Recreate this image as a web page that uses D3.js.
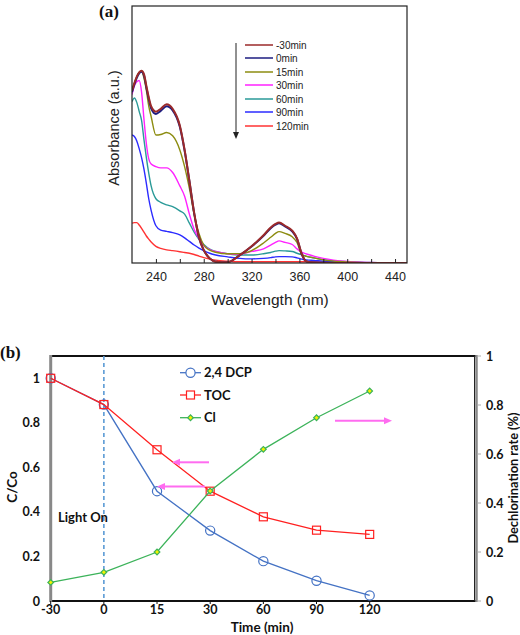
<!DOCTYPE html>
<html>
<head>
<meta charset="utf-8">
<script src="https://cdn.jsdelivr.net/npm/d3@7"></script>
<style>
  body { margin: 0; background: #fff; }
  svg { display: block; }
</style>
</head>
<body>
<svg id="chart" width="520" height="635"></svg>
<script>
// ---------- Panel (a) data ----------
const wavelengths = [220,222,224,226,228,230,232,234,236,240,244,249,254,260,264,268,272,276,280,285,290,300,310,320,330,336,340,343,348,354,358,362,366,372,380,400,420,450];
const specNames = ["-30min","0min","15min","30min","60min","90min","120min"];
const specColors = ["#9b2a2a","#1c1c80","#8c8c10","#ff22ff","#2a9a98","#2b2bff","#ff3333"];
const absM30 = [.67,.70,.725,.742,.748,.735,.69,.645,.61,.589,.60,.618,.60,.535,.44,.32,.195,.10,.05,.018,.005,.003,.03,.065,.108,.138,.152,.158,.145,.126,.096,.035,.006,.002,.001,0,0,0];
const abs0 = [.665,.695,.72,.738,.744,.73,.683,.638,.602,.58,.592,.61,.594,.53,.437,.318,.193,.099,.05,.018,.005,.003,.03,.064,.106,.135,.149,.155,.142,.123,.094,.034,.006,.002,.001,0,0,0];
const abs15 = [.67,.70,.725,.742,.745,.72,.673,.61,.57,.498,.50,.508,.495,.44,.375,.29,.19,.115,.07,.05,.042,.036,.036,.048,.078,.10,.115,.122,.115,.102,.08,.033,.026,.02,.012,.004,.001,0];
const abs30 = [.655,.69,.705,.71,.665,.56,.465,.405,.385,.375,.37,.37,.352,.30,.26,.19,.13,.095,.068,.052,.045,.036,.034,.045,.055,.07,.08,.086,.08,.072,.055,.042,.035,.027,.018,.006,.002,0];
const abs60 = [.628,.642,.625,.59,.555,.48,.41,.35,.30,.25,.236,.226,.219,.203,.19,.155,.12,.092,.072,.054,.045,.036,.031,.031,.036,.041,.046,.048,.047,.045,.038,.032,.026,.02,.013,.005,.002,0];
const abs90 = [.498,.492,.475,.445,.41,.365,.31,.25,.205,.145,.128,.123,.118,.109,.098,.084,.07,.058,.048,.038,.031,.024,.018,.016,.018,.021,.024,.025,.025,.024,.02,.015,.012,.01,.007,.003,.001,0];
const abs120 = [.155,.157,.157,.148,.135,.12,.105,.093,.082,.065,.057,.051,.048,.044,.041,.038,.033,.027,.021,.015,.011,.007,.005,.005,.005,.005,.005,.005,.005,.005,.005,.005,.005,.004,.003,.001,0,0];
const specValues = [absM30, abs0, abs15, abs30, abs60, abs90, abs120];
const wlTicks = [240,280,320,360,400,440];

// ---------- Panel (b) data ----------
const timeLabels = ["-30","0","15","30","60","90","120"];
const dcp = [1.0,0.882,0.493,0.316,0.179,0.091,0.025];
const toc = [1.0,0.882,0.679,0.493,0.378,0.318,0.299];
const cl  = [0.076,0.117,0.200,0.449,0.619,0.748,0.857];
const leftTicks = [0,0.2,0.4,0.6,0.8,1];
const rightTicks = [0,0.2,0.4,0.6,0.8,1];

const svg = d3.select("#chart");

// ================= Panel (a) =================
const ax = d3.scaleLinear().domain([220,450]).range([132,407]);
const ay = d3.scaleLinear().domain([0,1]).range([263,6]);
const ga = svg.append("g");
svg.append("defs").append("clipPath").attr("id","clipA")
  .append("rect").attr("x",132).attr("y",6).attr("width",275).attr("height",257);

const line = d3.line().x((d,i)=>ax(wavelengths[i])).y(d=>ay(d)).curve(d3.curveMonotoneX);
const drawOrder = [6,5,4,3,2,1,0];
const curves = ga.append("g").attr("clip-path","url(#clipA)");
drawOrder.forEach(k=>{
  curves.append("path").datum(specValues[k]).attr("d",line)
    .attr("fill","none").attr("stroke",specColors[k])
    .attr("stroke-width",k<2?2:1.4);
});
ga.append("rect").attr("x",132).attr("y",6).attr("width",275).attr("height",257)
  .attr("fill","none").attr("stroke","#222").attr("stroke-width",1.2);
const xAxisA = d3.axisBottom(ax).tickValues(d3.range(240,450,20)).tickSize(-4)
  .tickFormat(d=>wlTicks.includes(d)?d:"");
const gxa = ga.append("g").attr("transform","translate(0,263)").call(xAxisA);
gxa.select(".domain").remove();
gxa.selectAll(".tick line").attr("stroke","#222");
gxa.selectAll(".tick text").attr("font-family","Liberation Sans, Arial, sans-serif")
  .attr("font-size",12.5).attr("fill","#222").attr("dy","0.75em").attr("y",9);
ga.append("text").attr("x",270).attr("y",305).attr("text-anchor","middle")
  .attr("font-family","Liberation Sans, Arial, sans-serif").attr("font-size",15.5).attr("fill","#222")
  .text("Wavelength (nm)");
ga.append("text").attr("transform","translate(119,128) rotate(-90)").attr("text-anchor","middle")
  .attr("font-family","Liberation Sans, Arial, sans-serif").attr("font-size",14.5).attr("fill","#222")
  .text("Absorbance (a.u.)");
ga.append("text").attr("x",99).attr("y",17)
  .attr("font-family","Liberation Serif, Times New Roman, serif").attr("font-weight","bold").attr("font-size",17)
  .attr("fill","#111").text("(a)");
const legA = ga.append("g");
const legY = [45,58,72,85,99,112,126];
specNames.forEach((n,i)=>{
  legA.append("line").attr("x1",245).attr("x2",273).attr("y1",legY[i]).attr("y2",legY[i])
    .attr("stroke",specColors[i]).attr("stroke-width",1.5);
  legA.append("text").attr("x",276).attr("y",legY[i]+3.5)
    .attr("font-family","Liberation Sans Narrow, Arial Narrow, sans-serif").attr("font-size",10)
    .attr("fill","#222").text(n);
});
legA.append("line").attr("x1",236).attr("x2",236).attr("y1",43).attr("y2",133)
  .attr("stroke","#222").attr("stroke-width",1);
legA.append("path").attr("d","M233,132 L239,132 L236,139 Z").attr("fill","#222");

// ================= Panel (b) =================
const bx = d3.scaleLinear().domain([0,8]).range([50.7,476]);
const byL = d3.scaleLinear().domain([0,1.1]).range([601,356]);
const byR = d3.scaleLinear().domain([0,1]).range([601,356]);
const gb = svg.append("g");
const bold = "Lato, 'Open Sans', sans-serif";

gb.append("line").attr("x1",50).attr("x2",476).attr("y1",356).attr("y2",356).attr("stroke","#111").attr("stroke-width",2);
gb.append("line").attr("x1",50).attr("x2",476).attr("y1",601).attr("y2",601).attr("stroke","#111").attr("stroke-width",2);
gb.append("line").attr("x1",474.5).attr("x2",474.5).attr("y1",356).attr("y2",601).attr("stroke","#222").attr("stroke-width",1);
gb.append("line").attr("x1",bx(1)).attr("x2",bx(1)).attr("y1",356).attr("y2",601)
  .attr("stroke","#5b9bd5").attr("stroke-width",1.6).attr("stroke-dasharray","4,3");

gb.append("line").attr("x1",bx(0)).attr("x2",bx(0)).attr("y1",355).attr("y2",602)
  .attr("stroke","#888").attr("stroke-width",3);
leftTicks.forEach(t=>{
  gb.append("text").attr("x",40).attr("y",byL(t)+4.5).attr("text-anchor","end")
    .attr("font-family",bold).attr("font-weight","bold").attr("font-size",12.5).attr("fill","#111")
    .text(t);
});
gb.append("line").attr("x1",476.5).attr("x2",476.5).attr("y1",355).attr("y2",602)
  .attr("stroke","#888").attr("stroke-width",2.5);
rightTicks.forEach(t=>{
  gb.append("line").attr("x1",477).attr("x2",481).attr("y1",byR(t)).attr("y2",byR(t))
    .attr("stroke","#aaa").attr("stroke-width",1);
  gb.append("text").attr("x",486).attr("y",byR(t)+4.5)
    .attr("font-family",bold).attr("font-weight","bold").attr("font-size",12.5).attr("fill","#111")
    .text(t);
});
timeLabels.forEach((t,i)=>{
  gb.append("line").attr("x1",bx(i)).attr("x2",bx(i)).attr("y1",601).attr("y2",604)
    .attr("stroke","#111").attr("stroke-width",1);
  gb.append("text").attr("x",bx(i)).attr("y",614).attr("text-anchor","middle")
    .attr("font-family",bold).attr("font-weight","bold").attr("font-size",12.5).attr("fill","#111")
    .text(t);
});
gb.append("text").attr("x",262).attr("y",632).attr("text-anchor","middle")
  .attr("font-family",bold).attr("font-weight","bold").attr("font-size",13.5).attr("fill","#111")
  .text("Time (min)");
gb.append("text").attr("transform","translate(17,487) rotate(-90)").attr("text-anchor","middle")
  .attr("font-family",bold).attr("font-weight","bold").attr("font-size",13.5).attr("fill","#111")
  .text("C/Co");
gb.append("text").attr("transform","translate(518,478) rotate(-90)").attr("text-anchor","middle")
  .attr("font-family",bold).attr("font-weight","bold").attr("font-size",12.8).attr("fill","#111")
  .text("Dechlorination rate (%)");
gb.append("text").attr("x",0).attr("y",358)
  .attr("font-family","Liberation Serif, Times New Roman, serif").attr("font-weight","bold").attr("font-size",17)
  .attr("fill","#111").text("(b)");
gb.append("text").attr("x",58).attr("y",522)
  .attr("font-family",bold).attr("font-weight","bold").attr("font-size",13).attr("fill","#111")
  .text("Light On");

const lineL = d3.line().x((d,i)=>bx(i)).y(d=>byL(d));
const lineR = d3.line().x((d,i)=>bx(i)).y(d=>byR(d));
const cDCP = "#4472c4", cTOC = "#ff2020", cCL = "#3cb35a";
gb.append("path").datum(dcp).attr("d",lineL).attr("fill","none").attr("stroke",cDCP).attr("stroke-width",1.3);
gb.selectAll(".dcp").data(dcp).join("circle").attr("cx",(d,i)=>bx(i)).attr("cy",d=>byL(d)).attr("r",4.6)
  .attr("fill","none").attr("stroke",cDCP).attr("stroke-width",1.2);
gb.append("path").datum(toc).attr("d",lineL).attr("fill","none").attr("stroke",cTOC).attr("stroke-width",1.3);
gb.selectAll(".toc").data(toc).join("rect").attr("x",(d,i)=>bx(i)-4).attr("y",d=>byL(d)-4)
  .attr("width",8).attr("height",8).attr("fill","none").attr("stroke",cTOC).attr("stroke-width",1.2);
gb.append("path").datum(cl).attr("d",lineR).attr("fill","none").attr("stroke",cCL).attr("stroke-width",1.3);
const diamond = d3.symbol().type(d3.symbolSquare).size(16);
gb.selectAll(".cl").data(cl).join("path").attr("d",diamond)
  .attr("transform",(d,i)=>`translate(${bx(i)},${byR(d)}) rotate(45)`)
  .attr("fill","#f2f200").attr("stroke",cCL).attr("stroke-width",1.2);

const legB = [{n:"2,4 DCP",c:cDCP,m:"c",y:372.7},{n:"TOC",c:cTOC,m:"s",y:395},{n:"Cl",c:cCL,m:"d",y:417.7}];
legB.forEach(l=>{
  gb.append("line").attr("x1",180).attr("x2",201).attr("y1",l.y).attr("y2",l.y).attr("stroke",l.c).attr("stroke-width",1.3);
  if(l.m==="c") gb.append("circle").attr("cx",190.5).attr("cy",l.y).attr("r",4.6).attr("fill","#fff").attr("stroke",l.c).attr("stroke-width",1.2);
  if(l.m==="s") gb.append("rect").attr("x",186.5).attr("y",l.y-4).attr("width",8).attr("height",8).attr("fill","#fff").attr("stroke",l.c).attr("stroke-width",1.2);
  if(l.m==="d") gb.append("path").attr("d",diamond).attr("transform",`translate(190.5,${l.y}) rotate(45)`).attr("fill","#f2f200").attr("stroke",l.c).attr("stroke-width",1.2);
  gb.append("text").attr("x",204).attr("y",l.y+4.5)
    .attr("font-family",bold).attr("font-weight","bold").attr("font-size",13).attr("fill","#111").text(l.n);
});

const pink = "#ff6cf0";
function arrow(x1,x2,y){
  const dir = x2<x1 ? -1 : 1;
  gb.append("line").attr("x1",x1).attr("x2",x2-dir*6).attr("y1",y).attr("y2",y).attr("stroke",pink).attr("stroke-width",2);
  gb.append("path").attr("d",`M${x2},${y} L${x2-dir*8},${y-3.5} L${x2-dir*8},${y+3.5} Z`).attr("fill",pink);
}
arrow(209,172,462.3);
arrow(205,157,486.5);
arrow(335,392,420.7);
</script>
</body>
</html>
